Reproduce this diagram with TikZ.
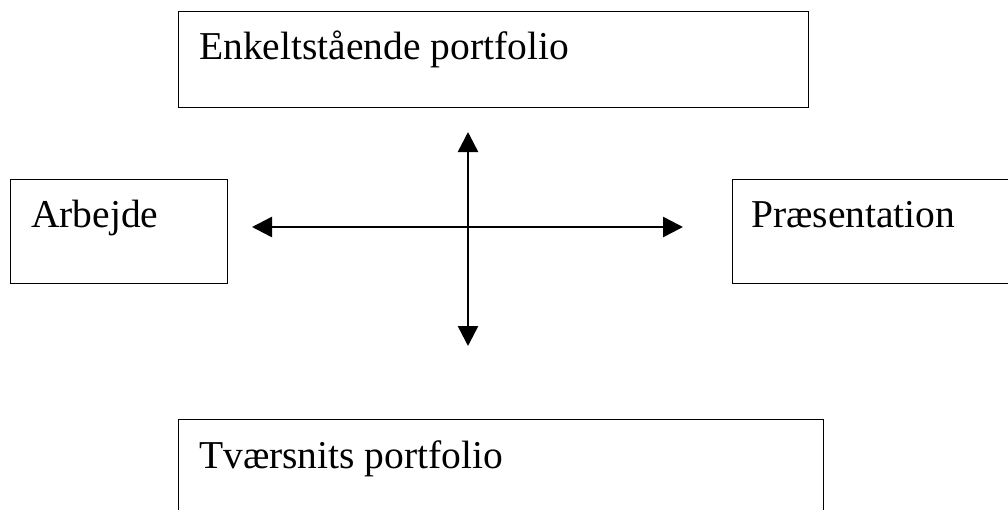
\documentclass[tikz,border=0pt]{standalone}
\usepackage{fontspec}
\setmainfont{Liberation Serif}
\usetikzlibrary{arrows.meta}
\begin{document}
\begin{tikzpicture}[x=1pt,y=-1pt,
  boxframe/.style={draw=black, line width=1.3pt, rectangle, inner sep=0pt, anchor=north west},
  boxtext/.style={anchor=base west, inner sep=0pt, font=\fontsize{39.5}{46}\selectfont},
  biarrow/.style={line width=2.5pt, {Triangle[length=20pt,width=20pt]}-{Triangle[length=20pt,width=20pt]}}]
\useasboundingbox (0,0) rectangle (1008,509);
\clip (0,0) rectangle (1008,509);
% boxes
\node[boxframe, minimum width=630pt, minimum height=96pt] (top) at (178,11) {};
\node[boxframe, minimum width=217pt, minimum height=104pt] (left) at (10,179) {};
\node[boxframe, minimum width=300pt, minimum height=104pt] (right) at (732,179) {};
\node[boxframe, minimum width=645pt, minimum height=130pt] (bottom) at (178,419) {};
% labels
\node[boxtext] (toplbl) at (199,59) {Enkeltstående portfolio};
\node[boxtext] (leftlbl) at (31,227) {Arbejde};
\node[boxtext] (rightlbl) at (751,227) {Præsentation};
\node[boxtext] (bottomlbl) at (199,468) {Tværsnits portfolio};
% arrows
\coordinate (hl) at (252,227);
\coordinate (hr) at (683,227);
\coordinate (vt) at (468,132);
\coordinate (vb) at (468,346);
\draw[biarrow] (hl) -- (hr);
\draw[biarrow] (vt) -- (vb);
\end{tikzpicture}
\end{document}
